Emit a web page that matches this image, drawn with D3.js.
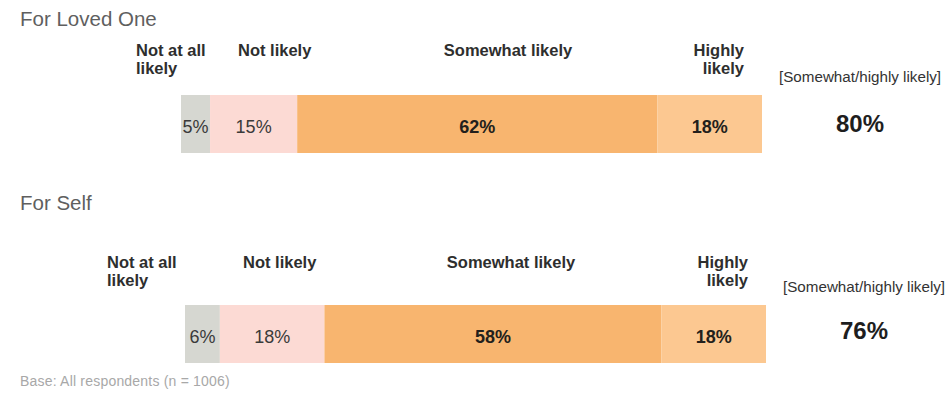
<!DOCTYPE html>
<html>
<head>
<meta charset="utf-8">
<script src="https://cdn.jsdelivr.net/npm/d3@7"></script>
<style>
  html, body { margin: 0; padding: 0; background: #fff; }
  svg { display: block; }
</style>
</head>
<body>
<div id="chart"></div>
<script>
// Likelihood scale and survey results
const categories = ["Not at all likely", "Not likely", "Somewhat likely", "Highly likely"];
const groups = ["For Loved One", "For Self"];
const lovedOneValues = [5, 15, 62, 18];
const selfValues = [6, 18, 58, 18];
const topTwoValues = [80, 76];
const topTwoLabel = "[Somewhat/highly likely]";
const baseNote = "Base: All respondents (n = 1006)";

const W = 947, H = 398;
const colors = ["#d6d7d1", "#fcdad4", "#f8b56f", "#fcc891"];
const font = "'Liberation Sans', Arial, sans-serif";

const svg = d3.select("#chart").append("svg")
  .attr("width", W).attr("height", H);

const x = d3.scaleLinear().domain([0, 100]).range([0, 581]);

// Per-panel layout
const panels = [
  { values: lovedOneValues, titleY: 26, barX: 181, barY: 95, barH: 58,
    labelY: 56, labelX: [136, 238, 508, 744], topLabelX: 779, topLabelY: 82, topX: 860, topY: 132 },
  { values: selfValues, titleY: 210, barX: 185, barY: 305, barH: 58,
    labelY: 268, labelX: [107, 243, 511, 748], topLabelX: 783, topLabelY: 292, topX: 864, topY: 339 }
];

const anchors = ["start", "start", "middle", "end"];
const lines = categories.map(c => {
  if (c === "Not at all likely") return ["Not at all", "likely"];
  if (c === "Highly likely") return ["Highly", "likely"];
  return [c];
});

panels.forEach((p, gi) => {
  const g = svg.append("g");

  g.append("text")
    .attr("x", 20).attr("y", p.titleY)
    .attr("font-family", font).attr("font-size", 20.5)
    .attr("fill", "#5f5f5f")
    .text(groups[gi]);

  // category headers
  categories.forEach((c, i) => {
    const t = g.append("text")
      .attr("x", p.labelX[i]).attr("y", p.labelY)
      .attr("text-anchor", anchors[i])
      .attr("font-family", font).attr("font-size", 16.5)
      .attr("font-weight", "bold").attr("fill", "#2e2e2e");
    lines[i].forEach((ln, li) => {
      t.append("tspan").attr("x", p.labelX[i]).attr("dy", li === 0 ? 0 : 18).text(ln);
    });
  });

  // stacked segments
  const stack = d3.cumsum(p.values);
  const segs = p.values.map((v, i) => ({ v, i, x0: stack[i] - v, x1: stack[i] }));
  const bar = g.append("g").attr("transform", `translate(${p.barX},${p.barY})`);

  bar.selectAll("rect").data(segs).join("rect")
    .attr("x", d => x(d.x0))
    .attr("width", d => x(d.x1) - x(d.x0))
    .attr("y", 0).attr("height", p.barH)
    .attr("fill", d => colors[d.i]);

  bar.selectAll("text").data(segs).join("text")
    .attr("x", d => (x(d.x0) + x(d.x1)) / 2)
    .attr("y", p.barH / 2 + 9)
    .attr("text-anchor", "middle")
    .attr("font-family", font).attr("font-size", 18)
    .attr("font-weight", d => d.i >= 2 ? "bold" : "normal")
    .attr("fill", d => d.i >= 2 ? "#231f1c" : "#3a3a3a")
    .text(d => d.v + "%");

  // combined top-two box
  g.append("text")
    .attr("x", p.topLabelX).attr("y", p.topLabelY)
    .attr("font-family", font).attr("font-size", 15.2)
    .attr("fill", "#333")
    .text(topTwoLabel);

  g.append("text")
    .attr("x", p.topX).attr("y", p.topY)
    .attr("text-anchor", "middle")
    .attr("font-family", font).attr("font-size", 24)
    .attr("font-weight", "bold").attr("fill", "#1e1e1e")
    .text(topTwoValues[gi] + "%");
});

svg.append("text")
  .attr("x", 20).attr("y", 386)
  .attr("font-family", font).attr("font-size", 14)
  .attr("letter-spacing", 0.2)
  .attr("fill", "#a8a8a8")
  .text(baseNote);
</script>
</body>
</html>
